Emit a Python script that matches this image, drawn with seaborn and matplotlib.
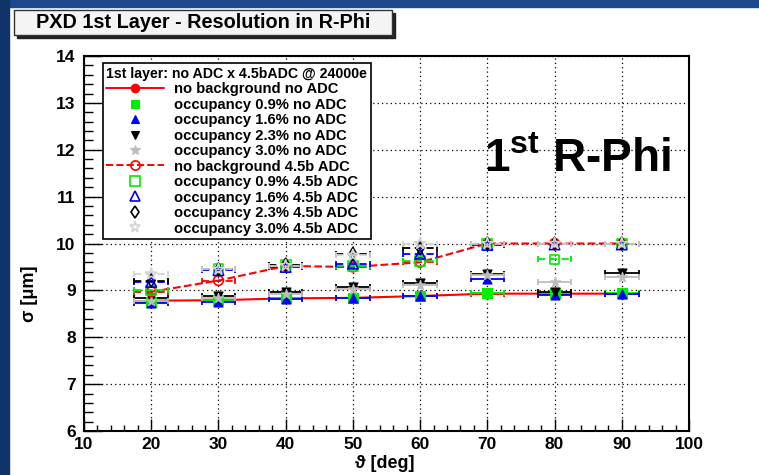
import numpy as np
import pandas as pd
import matplotlib
matplotlib.use("Agg")
import matplotlib.pyplot as plt
from matplotlib.lines import Line2D
from matplotlib.patches import Rectangle
from matplotlib.ticker import MultipleLocator
import seaborn as sns

# polar angle bins and their half widths
theta = [20, 30, 40, 50, 60, 70, 80, 90]
theta_halfwidth = [2.5, 2.5, 2.5, 2.5, 2.5, 2.5, 2.5, 2.5]

# R-Phi resolution (um) without ADC
res_nobg_noadc = [8.78, 8.79, 8.83, 8.84, 8.88, 8.93, 8.93, 8.93]
res_occ09_noadc = [8.76, 8.79, 8.84, 8.83, 8.88, 8.94, 8.94, 8.95]
res_occ16_noadc = [8.73, 8.76, 8.82, 8.83, 8.87, 9.24, 8.90, 8.93]
res_occ23_noadc = [8.84, 8.88, 8.96, 9.07, 9.15, 9.35, 8.97, 9.37]
res_occ30_noadc = [8.77, 8.84, 8.93, 9.02, 9.12, 9.32, 9.17, 9.28]

# R-Phi resolution (um) with 4.5 bit ADC
res_nobg_adc = [8.97, 9.21, 9.52, 9.50, 9.60, 10.00, 10.00, 10.00]
res_occ09_adc = [9.00, 9.45, 9.55, 9.52, 9.62, 10.00, 9.66, 10.00]
res_occ16_adc = [9.18, 9.43, 9.50, 9.57, 9.78, 9.97, 9.98, 9.98]
res_occ23_adc = [9.21, 9.45, 9.55, 9.78, 9.90, 10.00, 10.00, 10.00]
res_occ30_adc = [9.35, 9.45, 9.53, 9.75, 10.00, 10.00, 10.00, 10.00]

series_labels = [
    "no background no ADC",
    "occupancy 0.9% no ADC",
    "occupancy 1.6% no ADC",
    "occupancy 2.3% no ADC",
    "occupancy 3.0% no ADC",
    "no background 4.5b ADC",
    "occupancy 0.9% 4.5b ADC",
    "occupancy 1.6% 4.5b ADC",
    "occupancy 2.3% 4.5b ADC",
    "occupancy 3.0% 4.5b ADC",
]
legend_header = "1st layer: no ADC x 4.5bADC @ 24000e"
x_ticks = [10, 20, 30, 40, 50, 60, 70, 80, 90, 100]
y_ticks = [6, 7, 8, 9, 10, 11, 12, 13, 14]

series_values = [
    res_nobg_noadc, res_occ09_noadc, res_occ16_noadc, res_occ23_noadc, res_occ30_noadc,
    res_nobg_adc, res_occ09_adc, res_occ16_adc, res_occ23_adc, res_occ30_adc,
]

RED, GREEN, BLUE, BLACK, GREY, LGREY = "#ff0000", "#00ee00", "#0000ff", "#000000", "#bdbdbd", "#d4d4d4"
styles = [
    dict(color=RED, marker="o", filled=True, line="-", ms=6.5),
    dict(color=GREEN, marker="s", filled=True, line=None, ms=6.5),
    dict(color=BLUE, marker="^", filled=True, line=None, ms=6.5),
    dict(color=BLACK, marker="v", filled=True, line=None, ms=6.5),
    dict(color=GREY, marker="*", filled=True, line=None, ms=7.5),
    dict(color=RED, marker="o", filled=False, line="--", ms=7),
    dict(color=GREEN, marker="s", filled=False, line=None, ms=7),
    dict(color=BLUE, marker="^", filled=False, line=None, ms=7.5),
    dict(color=BLACK, marker="d", filled=False, line=None, ms=6.5),
    dict(color=LGREY, marker="*", filled=False, line=None, ms=8.5),
]

sns.set_style("ticks")
plt.rcParams["font.family"] = ["Liberation Sans", "DejaVu Sans"]
plt.rcParams["font.weight"] = "bold"
plt.rcParams["text.color"] = "black"
plt.rcParams["axes.labelcolor"] = "black"
plt.rcParams["xtick.color"] = "black"
plt.rcParams["ytick.color"] = "black"
plt.rcParams["mathtext.fontset"] = "custom"
plt.rcParams["mathtext.bf"] = "Liberation Sans:bold"
plt.rcParams["mathtext.rm"] = "Liberation Sans:bold"

fig = plt.figure(figsize=(7.59, 4.75), dpi=100)
fig.patch.set_facecolor("white")

# slide decorations: blue bar along the top and down the left edge
fig.patches.append(Rectangle((0, 1 - 7 / 475), 1, 7 / 475, transform=fig.transFigure,
                             color="#1d4a8f", zorder=0))
fig.patches.append(Rectangle((0, 0), 9 / 759, 1, transform=fig.transFigure,
                             color="#11336a", zorder=0))

# title pave with shadow
fig.patches.append(Rectangle((17 / 759, 1 - 38 / 475), 378 / 759, 25 / 475,
                             transform=fig.transFigure, color="#222222", zorder=1))
fig.patches.append(Rectangle((14 / 759, 1 - 35 / 475), 378 / 759, 25 / 475,
                             transform=fig.transFigure, facecolor="#f4f4f4",
                             edgecolor="#333333", linewidth=1.0, zorder=2))
fig.text(203 / 759, 1 - 22.5 / 475, "PXD 1st Layer - Resolution in R-Phi",
         ha="center", va="center", fontsize=14.3, fontweight="bold", zorder=3)

ax = fig.add_axes([84 / 759, 1 - 431 / 475, 605 / 759, 375 / 475])
ax.set_facecolor("white")

for vals, st in zip(series_values, styles):
    df = pd.DataFrame({"theta": theta, "sigma": vals, "dtheta": theta_halfwidth})
    eb = ax.errorbar(df["theta"], df["sigma"], xerr=df["dtheta"], fmt="none",
                     ecolor=st["color"], elinewidth=1.3, capsize=2.2, capthick=1.3, zorder=3)
    if not st["filled"]:
        for coll in eb[2]:
            coll.set_linestyle((0, (4, 2.5)))
    if st["line"] is not None:
        sns.lineplot(data=df, x="theta", y="sigma", color=st["color"], linestyle=st["line"],
                     linewidth=1.5, ax=ax, zorder=3, errorbar=None)
    size = st["ms"] ** 2
    if st["filled"]:
        sns.scatterplot(data=df, x="theta", y="sigma", marker=st["marker"], s=size,
                        color=st["color"], edgecolor=st["color"], linewidth=0.8, ax=ax, zorder=4)
    else:
        sns.scatterplot(data=df, x="theta", y="sigma", marker=st["marker"], s=size,
                        facecolor="none", edgecolor=st["color"], linewidth=1.2, ax=ax, zorder=4)

ax.set_xlim(10, 100)
ax.set_ylim(6, 14)
ax.set_xticks(x_ticks)
ax.set_yticks(y_ticks)
ax.xaxis.set_minor_locator(MultipleLocator(2))
ax.yaxis.set_minor_locator(MultipleLocator(0.2))
ax.grid(True, which="major", linestyle=(0, (1, 2.5)), color="black", linewidth=0.9)
ax.tick_params(axis="both", which="both", direction="in", top=False, right=False,
               width=1.0, colors="black")
ax.tick_params(axis="y", which="major", length=13, pad=6, labelsize=12.5)
ax.tick_params(axis="y", which="minor", length=6.5)
ax.tick_params(axis="x", which="major", length=9, pad=4, labelsize=12.5)
ax.tick_params(axis="x", which="minor", length=4.5)
for lab in ax.get_xticklabels() + ax.get_yticklabels():
    lab.set_fontweight("bold")
for sp in ax.spines.values():
    sp.set_linewidth(1.5)
    sp.set_color("black")

ax.set_xlabel("ϑ [deg]", fontsize=13, fontweight="bold")
ax.set_ylabel("σ [μm]", fontsize=13, fontweight="bold")
ax.xaxis.set_label_coords(0.497, -0.065)
ax.yaxis.set_label_coords(-0.076, 0.365)

ax.text(83.4, 11.78, r"1$^{\mathbf{st}}$ R-Phi", ha="center", va="center",
        fontsize=33, fontweight="bold", color="black", zorder=5)

handles = []
for st in styles:
    handles.append(Line2D([0], [0], color=st["color"],
                          linestyle=st["line"] if st["line"] else "none", linewidth=1.4,
                          marker=st["marker"], markersize=st["ms"] * 0.95,
                          markerfacecolor=st["color"] if st["filled"] else "none",
                          markeredgecolor=st["color"],
                          markeredgewidth=0.8 if st["filled"] else 1.2))
leg = ax.legend(handles, series_labels, title=legend_header, loc="upper left",
                bbox_to_anchor=(0.031, 0.981), frameon=True, fancybox=False, shadow=False,
                prop={"size": 10.6, "weight": "bold"},
                title_fontproperties={"size": 10.2, "weight": "bold"},
                handlelength=3.9, handletextpad=0.7, labelspacing=0.1,
                borderpad=0.25, borderaxespad=0.0)
leg._legend_box.align = "left"
leg.get_frame().set_edgecolor("black")
leg.get_frame().set_linewidth(1.2)
leg.get_frame().set_alpha(1.0)
leg.set_zorder(6)

fig.savefig("out.png", dpi=100)
